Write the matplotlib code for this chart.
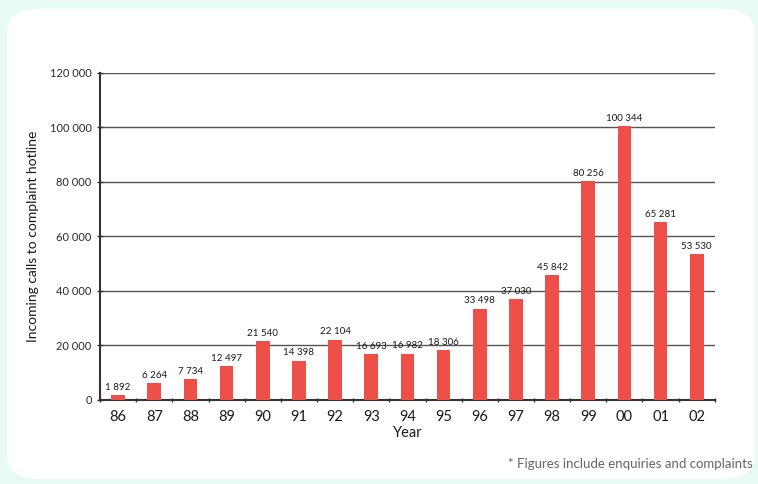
import matplotlib
matplotlib.use("Agg")
import matplotlib.pyplot as plt
from matplotlib.patches import FancyBboxPatch
import numpy as np

years = ["86", "87", "88", "89", "90", "91", "92", "93", "94", "95", "96", "97", "98", "99", "00", "01", "02"]
calls = [1892, 6264, 7734, 12497, 21540, 14398, 22104, 16693, 16982, 18306, 33498, 37030, 45842, 80256, 100344, 65281, 53530]
yticks = [0, 20000, 40000, 60000, 80000, 100000, 120000]

def fmt(v):
    return f"{v:,}".replace(",", " ")

plt.rcParams['font.family'] = ['Lato', 'DejaVu Sans']

fig = plt.figure(figsize=(7.58, 4.84), dpi=100)
fig.patch.set_facecolor('#e8fbf3')
bg = FancyBboxPatch((0.01, 0.01), 0.985, 0.972, boxstyle="round,pad=0,rounding_size=0.045",
                    transform=fig.transFigure, facecolor='white', edgecolor='none', zorder=-10)
fig.patches.append(bg)

ax = fig.add_axes([0.132, 0.1736, 0.811, 0.676])
ax.set_facecolor('none')
ax.set_zorder(5)
x = np.arange(len(years))
ax.bar(x, calls, width=0.38, color='#ee4f48', zorder=3)
for xi, v in zip(x, calls):
    ax.text(xi, v + 1200, fmt(v), ha='center', va='bottom', fontsize=7, color='#1a1a1a', zorder=4)

ax.set_xlim(-0.5, len(years) - 0.5)
ax.set_ylim(0, 120000)
ax.set_yticks(yticks)
ax.set_yticklabels([fmt(t) for t in yticks], fontsize=8, color='#2a2a2a')
ax.set_xticks(x)
ax.set_xticklabels(years, fontsize=10.5, color='#1a1a1a')
ax.tick_params(axis='x', which='major', length=0, pad=7)
ax.set_xticks(np.arange(-0.5, len(years)), minor=True)
ax.tick_params(axis='x', which='minor', length=3, direction='inout', width=1, color='#333333')
ax.tick_params(axis='y', length=4, direction='inout', width=1, color='#333333', pad=4)
ax.grid(axis='y', color='#555555', linewidth=1, zorder=1)
for s in ['top', 'right']:
    ax.spines[s].set_visible(False)
ax.spines['left'].set_color('#333333')
ax.spines['left'].set_linewidth(1.5)
ax.spines['bottom'].set_color('#333333')
ax.spines['bottom'].set_linewidth(1.5)

ax.set_ylabel("Incoming calls to complaint hotline", fontsize=10, color='#1a1a1a', labelpad=8)
ax.set_xlabel("Year", fontsize=10.5, color='#1a1a1a', labelpad=2)

fig.text(0.993, 0.028, "* Figures include enquiries and complaints", ha='right', va='bottom',
         fontsize=9.5, color='#666666')

fig.savefig("out.png", dpi=100, facecolor=fig.get_facecolor())
